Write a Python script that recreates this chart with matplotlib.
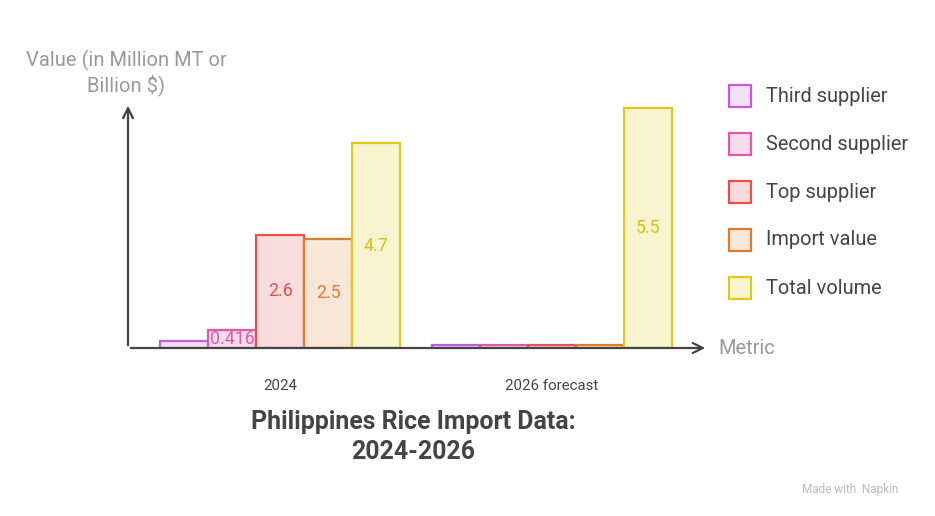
import matplotlib.pyplot as plt
from matplotlib.patches import Rectangle

plt.rcParams['font.family'] = ['Roboto', 'DejaVu Sans']

groups = ['2024', '2026 forecast']
series = ['Third supplier', 'Second supplier', 'Top supplier', 'Import value', 'Total volume']
values = {
    'Third supplier': [0.15, 0.06],
    'Second supplier': [0.416, 0.06],
    'Top supplier': [2.6, 0.06],
    'Import value': [2.5, 0.06],
    'Total volume': [4.7, 5.5],
}
labels = {
    'Third supplier': ['', ''],
    'Second supplier': ['0.416', ''],
    'Top supplier': ['2.6', ''],
    'Import value': ['2.5', ''],
    'Total volume': ['4.7', '5.5'],
}
edges = ['#c05ce0', '#e05aa8', '#e85050', '#e07b2a', '#e2c71b']
fills = ['#f1e0fa', '#fadcef', '#f9dcdc', '#f8e6d8', '#f8f4d0']
text_cols = ['#c05ce0', '#e05aa8', '#e85050', '#e07b2a', '#d9be10']

W, H = 935, 516
fig = plt.figure(figsize=(W / 100, H / 100), dpi=100)
ax = fig.add_axes([128 / W, (H - 348) / H, (708 - 128) / W, (348 - 103) / H])

bw = 48 / 272
for i, s in enumerate(series):
    xs = [g + (i - 2) * bw for g in range(len(groups))]
    ax.bar(xs, values[s], width=bw, color=fills[i], edgecolor=edges[i], linewidth=1.6, zorder=2)
    for x, v, lab in zip(xs, values[s], labels[s]):
        if lab:
            ax.text(x, v / 2, lab, ha='center', va='center', fontsize=12.8, color=text_cols[i], zorder=3)

ax.set_xlim((128 - 280) / 272, (708 - 280) / 272)
ax.set_ylim(0, (348 - 103) / 43.6)
for sp in ax.spines.values():
    sp.set_visible(False)
ax.set_yticks([])
ax.set_xticks(range(len(groups)))
ax.set_xticklabels(groups, fontsize=10.8, color='#444444')
ax.tick_params(axis='x', length=0, pad=22)

axis_col = '#444444'
ax.annotate('', xy=(1, 0), xytext=(0, 0), xycoords='axes fraction',
            arrowprops=dict(arrowstyle='->', color=axis_col, lw=1.6, mutation_scale=18), zorder=4)
ax.annotate('', xy=(0, 1), xytext=(0, 0), xycoords='axes fraction',
            arrowprops=dict(arrowstyle='->', color=axis_col, lw=1.6, mutation_scale=18), zorder=4)

fig.text(126 / W, 1 - 73 / H, 'Value (in Million MT or\nBillion $)', ha='center', va='center',
         fontsize=14.5, color='#999999', linespacing=1.15)
fig.text(718 / W, 1 - 348 / H, 'Metric', ha='left', va='center', fontsize=14.5, color='#999999')

fig.text(413 / W, 1 - 437 / H, 'Philippines Rice Import Data:\n2024-2026', ha='center', va='center',
         fontsize=17.9, fontweight='bold', color='#444444', linespacing=1.3)

for i, s in enumerate(series):
    y = 96 + 48 * i
    fig.patches.append(Rectangle((729 / W, 1 - (y + 11) / H), 22 / W, 22 / H, transform=fig.transFigure,
                                 facecolor=fills[i], edgecolor=edges[i], linewidth=1.6))
    fig.text(766 / W, 1 - y / H, s, ha='left', va='center', fontsize=14.4, color='#444444')

fig.text(850 / W, 1 - 489 / H, 'Made with  Napkin', ha='center', va='center', fontsize=8.5, color='#bbbbbb')

fig.savefig('out.png', dpi=100, facecolor='white')
